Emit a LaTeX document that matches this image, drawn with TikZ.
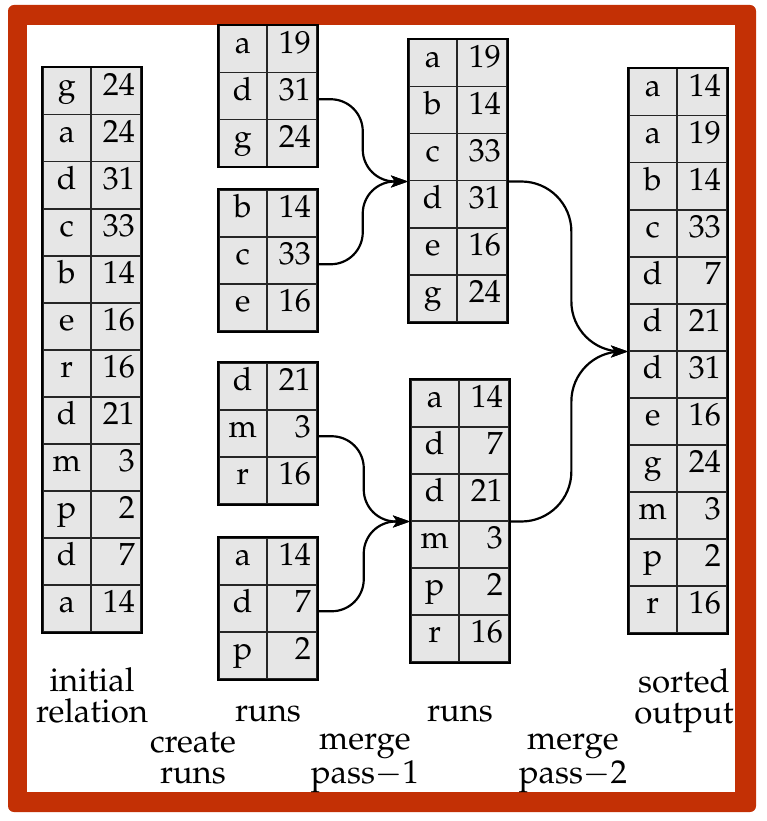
\documentclass[tikz,border=0pt]{standalone}
\usepackage[T1]{fontenc}
\usepackage{mathpazo}
\usetikzlibrary{arrows.meta,calc}
\definecolor{framered}{RGB}{195,48,5}
\definecolor{cellfill}{RGB}{230,230,230}
\newcommand{\cellfnt}{\fontsize{32}{32}\selectfont}
\newcommand{\labfnt}{\fontsize{33}{31}\selectfont}
\tikzset{
  keycell/.style={draw=black!85, fill=cellfill, line width=1.5pt,
    minimum width=48pt, minimum height=47pt, inner sep=0pt,
    anchor=north west, text height=0.78em, text depth=0pt, font=\cellfnt},
  valcell/.style={keycell, minimum width=50pt, text width=38pt,
    inner xsep=6pt, inner ysep=0pt, align=right},
  tabframe/.style={draw=black, line width=2pt},
  conn/.style={line width=2.2pt, -{Stealth[length=17pt,width=12pt,inset=4pt]}},
  lab/.style={font=\labfnt, align=center, anchor=base, inner sep=0pt}
}
\newcommand{\mkrows}[5]{%
  \foreach \k/\v [count=\i] in {#4}{
    \node[keycell] (#1k\i) at ({#2},{#3+(\i-1)*47}) {\k};
    \node[valcell] (#1v\i) at ({#2+48},{#3+(\i-1)*47}) {\v};
  }
  \draw[tabframe] (#1k1.north west) rectangle (#1v#5.south east);
}
\begin{document}
\begin{tikzpicture}[x=1pt,y=-1pt]
\useasboundingbox (0,0) rectangle (767,821);
% frame
\fill[framered, rounded corners=6pt] (8,5) rectangle (756,812);
\fill[white] (27,25) rectangle (735,792);

% tables
\mkrows{ini}{42}{67}{g/24,a/24,d/31,c/33,b/14,e/16,r/16,d/21,m/3,p/2,d/7,a/14}{12}
\mkrows{ra}{218}{25}{a/19,d/31,g/24}{3}
\mkrows{rb}{218}{189}{b/14,c/33,e/16}{3}
\mkrows{rc}{218}{362}{d/21,m/3,r/16}{3}
\mkrows{rd}{218}{537}{a/14,d/7,p/2}{3}
\mkrows{ma}{408}{39}{a/19,b/14,c/33,d/31,e/16,g/24}{6}
\mkrows{mb}{410}{379}{a/14,d/7,d/21,m/3,p/2,r/16}{6}
\mkrows{so}{628}{68}{a/14,a/19,b/14,c/33,d/7,d/21,d/31,e/16,g/24,m/3,p/2,r/16}{12}

% connector end points
\coordinate (sa) at ([yshift=-3pt]rav2.east);
\coordinate (sb) at ([yshift=-4pt]rbv2.east);
\coordinate (sc) at ([yshift=-3pt]rcv2.east);
\coordinate (sd) at ([yshift=-3pt]rdv2.east);
\coordinate (ta) at (mak3.south west);
\coordinate (tb) at (mbk3.south west);
\coordinate (ua) at (mav3.south east);
\coordinate (ub) at (mbv3.south east);
\coordinate (ts) at (sok6.south west);
\coordinate (xa) at ($(sa)!0.5!(ta)$);
\coordinate (xb) at ($(sc)!0.5!(tb)$);
\coordinate (xs) at ($(ua)!0.53!(ts)$);

% connectors, merge pass 1
\draw[conn, rounded corners=32pt] (sa) -- (sa -| xa) -- (ta -| xa) -- (ta);
\draw[conn, rounded corners=32pt] (sb) -- (sb -| xa) -- (ta -| xa) -- (ta);
\draw[conn, rounded corners=32pt] (sc) -- (sc -| xb) -- (tb -| xb) -- (tb);
\draw[conn, rounded corners=32pt] (sd) -- (sd -| xb) -- (tb -| xb) -- (tb);

% connectors, merge pass 2
\draw[conn, rounded corners=50pt] (ua) -- (ua -| xs) -- (ts -| xs) -- (ts);
\draw[conn, rounded corners=50pt] (ub) -- (ub -| xs) -- (ts -| xs) -- (ts);

% labels (anchor = baseline of the last line)
\node[lab] (l1) at (92,722) {initial\\relation};
\node[lab] (l2) at (268,721) {runs};
\node[lab] (l3) at (460,721) {runs};
\node[lab] (l4) at (684,723) {sorted\\output};
\node[lab] (l5) at (193,783) {create\\runs};
\node[lab] (l6) at (365,783) {merge\\pass$-$1};
\node[lab] (l7) at (573,783) {merge\\pass$-$2};
\end{tikzpicture}
\end{document}
